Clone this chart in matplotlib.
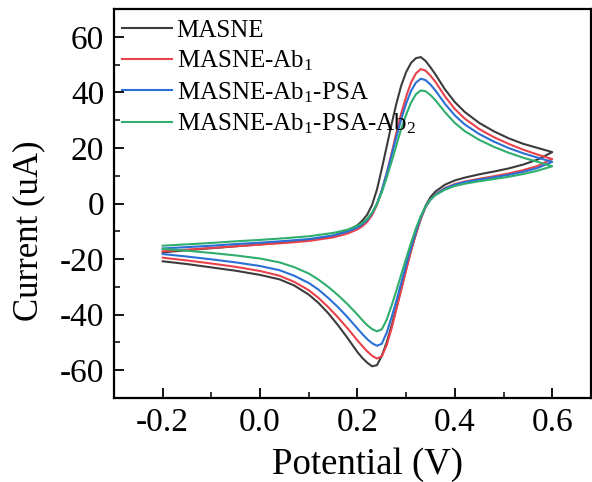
import matplotlib
matplotlib.use("Agg")
import matplotlib.pyplot as plt
from matplotlib.ticker import MultipleLocator

plt.rcParams['font.family'] = ['Liberation Serif', 'DejaVu Serif']
plt.rcParams['mathtext.fontset'] = 'custom'
plt.rcParams['mathtext.rm'] = 'Liberation Serif'
plt.rcParams['mathtext.it'] = 'Liberation Serif:italic'

# Potential sample points (V)
E_fwd = [-0.2, -0.15, -0.1, -0.05, 0.0, 0.05, 0.1, 0.15, 0.18, 0.2, 0.21, 0.22, 0.23, 0.24,
         0.25, 0.26, 0.27, 0.28, 0.29, 0.30, 0.31, 0.32, 0.33, 0.34, 0.35, 0.36, 0.38, 0.40,
         0.42, 0.45, 0.48, 0.51, 0.54, 0.57, 0.6]
E_rev = [0.6, 0.57, 0.54, 0.51, 0.48, 0.45, 0.42, 0.40, 0.38, 0.36, 0.35, 0.34, 0.33, 0.32,
         0.31, 0.30, 0.29, 0.28, 0.27, 0.26, 0.25, 0.24, 0.23, 0.22, 0.21, 0.20, 0.18, 0.16,
         0.14, 0.12, 0.10, 0.07, 0.04, 0.0, -0.05, -0.1, -0.15, -0.2]

# Currents (uA)
masne_fwd = [-17.6, -16.8, -16.1, -15.4, -14.7, -14.0, -13.2, -11.6, -9.8, -7.8, -6.2, -4.0, -0.5, 5.0,
             12.5, 20.5, 28.5, 36.0, 42.5, 47.3, 50.6, 52.3, 52.7, 51.3, 49.0, 46.5, 41.0, 36.5,
             33.0, 29.0, 26.0, 23.5, 21.5, 20.0, 18.5]
masne_rev = [18.5, 15.8, 14.0, 12.6, 11.5, 10.5, 9.3, 8.3, 6.8, 4.3, 2.3, -0.8, -5.5, -11.0,
             -17.0, -23.5, -30.5, -37.5, -44.0, -50.0, -54.8, -58.2, -58.6, -57.3, -55.6, -53.5, -48.5, -43.8,
             -39.5, -35.8, -32.8, -29.5, -27.3, -25.7, -24.2, -23.0, -21.8, -20.8]

ab1_fwd = [-17.2, -16.6, -16.0, -15.4, -14.8, -14.2, -13.5, -12.2, -10.8, -9.3, -8.2, -6.6, -4.2, -0.5,
           4.5, 11.0, 18.0, 25.5, 32.5, 38.5, 43.5, 46.8, 48.4, 47.8, 46.0, 43.8, 38.5, 34.0,
           30.6, 26.8, 23.9, 21.5, 19.4, 17.6, 16.0]
ab1_rev = [16.0, 13.5, 12.0, 10.8, 9.8, 8.9, 7.9, 7.0, 5.6, 3.3, 1.5, -1.3, -5.5, -10.8,
           -17.0, -24.0, -31.0, -38.0, -45.0, -51.0, -55.0, -55.8, -54.8, -53.2, -51.3, -49.3, -45.0, -41.0,
           -37.3, -34.0, -31.2, -28.2, -26.0, -24.3, -22.8, -21.6, -20.5, -19.5]

psa_fwd = [-16.2, -15.7, -15.2, -14.6, -14.1, -13.5, -12.8, -11.5, -10.1, -8.6, -7.5, -5.9, -3.5, 0.0,
           4.8, 10.8, 17.3, 24.0, 30.5, 36.0, 40.5, 43.5, 44.9, 44.4, 42.8, 40.7, 35.8, 31.7,
           28.5, 25.0, 22.3, 20.0, 18.1, 16.5, 15.0]
psa_rev = [15.0, 12.8, 11.4, 10.3, 9.4, 8.6, 7.7, 6.8, 5.4, 3.2, 1.4, -1.2, -5.0, -10.0,
           -15.8, -22.0, -28.5, -35.0, -41.0, -46.5, -50.5, -51.2, -50.3, -48.8, -47.0, -45.0, -41.0, -37.3,
           -34.0, -31.0, -28.6, -26.0, -24.0, -22.5, -21.2, -20.1, -19.1, -18.2]

ab2_fwd = [-15.2, -14.7, -14.2, -13.6, -13.1, -12.5, -11.8, -10.6, -9.4, -8.0, -7.0, -5.5, -3.3, -0.2,
           4.0, 9.3, 15.0, 21.0, 27.0, 32.0, 36.3, 39.3, 40.7, 40.4, 39.0, 37.2, 32.8, 29.0,
           26.1, 22.9, 20.4, 18.3, 16.5, 15.0, 13.4]
ab2_rev = [13.4, 11.8, 10.6, 9.6, 8.8, 8.0, 7.1, 6.3, 5.0, 3.0, 1.4, -1.0, -4.5, -9.0,
           -14.2, -19.8, -25.5, -31.3, -36.8, -41.8, -45.3, -46.0, -45.2, -43.8, -42.0, -40.0, -36.3, -33.0,
           -30.0, -27.4, -25.2, -22.9, -21.2, -19.8, -18.7, -17.8, -17.0, -16.3]

labels = ['MASNE', r'MASNE-Ab$_\mathrm{1}$', r'MASNE-Ab$_\mathrm{1}$-PSA',
          r'MASNE-Ab$_\mathrm{1}$-PSA-Ab$_\mathrm{2}$']
colors = ['#3c3c3c', '#e8424a', '#2a6fd6', '#2fae6e']
series = [(masne_fwd, masne_rev), (ab1_fwd, ab1_rev), (psa_fwd, psa_rev), (ab2_fwd, ab2_rev)]

x_ticks = [-0.2, 0.0, 0.2, 0.4, 0.6]
x_ticklabels = ['-0.2', '0.0', '0.2', '0.4', '0.6']
y_ticks = [-60, -40, -20, 0, 20, 40, 60]
y_ticklabels = ['-60', '-40', '-20', '0', '20', '40', '60']

fig = plt.figure(figsize=(5.92, 4.82), dpi=100)
ax = fig.add_axes([0.1926, 0.1743, 0.806, 0.807])

for (fwd, rev), c, lab in zip(series, colors, labels):
    ax.plot(E_fwd + E_rev, fwd + rev, color=c, lw=1.5, label=lab,
            solid_joinstyle='round')

ax.set_xlim(-0.3, 0.68)
ax.set_ylim(-70, 70)
ax.xaxis.set_minor_locator(MultipleLocator(0.1))
ax.yaxis.set_minor_locator(MultipleLocator(10))
ax.set_xticks(x_ticks)
ax.set_xticklabels(x_ticklabels)
ax.set_yticks(y_ticks)
ax.set_yticklabels(y_ticklabels)
ax.tick_params(which='major', direction='in', length=7, width=1.3, labelsize=24, pad=7)
ax.tick_params(which='minor', direction='in', length=4, width=1.1)
for s in ax.spines.values():
    s.set_linewidth(1.6)

ax.set_xlabel('Potential (V)', fontsize=26.5)
ax.set_ylabel('Current (uA)', fontsize=25)
ax.xaxis.set_label_coords(0.532, -0.128)
ax.yaxis.set_label_coords(-0.145, 0.43)

ax.legend(loc='upper left', frameon=False, fontsize=18, handlelength=2.0,
          handletextpad=0.2, labelspacing=0.28, borderaxespad=0.2, borderpad=0.2,
          bbox_to_anchor=(-0.005, 1.0))

fig.savefig('out.png', dpi=100)
